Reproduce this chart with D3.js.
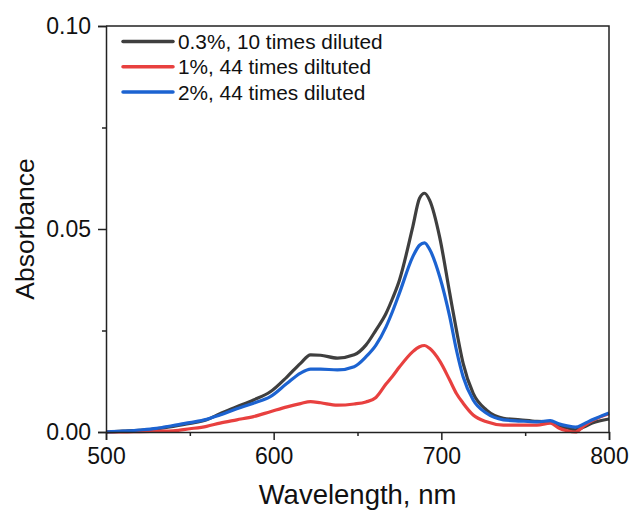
<!DOCTYPE html>
<html>
<head>
<meta charset="utf-8">
<script src="https://cdn.jsdelivr.net/npm/d3@7"></script>
<style>
  body { margin: 0; background: #fff; }
  svg text { font-family: Arial, "Liberation Sans", sans-serif; fill: #111; }
</style>
</head>
<body>
<div id="chart"></div>
<script>
const width = 633;
const height = 513;

// wavelength grid (nm)
const wavelengths = [500, 510, 520, 530, 540, 550, 560, 568, 578, 588, 598, 608, 616, 622, 628, 638, 648, 655, 661, 667,
    671, 675, 683, 687, 690, 693, 699, 705, 709, 713, 719, 727, 737, 747, 757, 765, 770, 775, 780, 785, 790, 800];

const dil03 = [0.0000, 0.0002, 0.0004, 0.0008, 0.0014, 0.0021, 0.0030, 0.0045, 0.0062, 0.0079, 0.0099, 0.0136, 0.0169, 0.0190,
    0.0189, 0.0182, 0.0190, 0.0214, 0.0251, 0.0292, 0.0330, 0.0374, 0.0506, 0.0576, 0.0588, 0.0571, 0.0480, 0.0342, 0.0251,
    0.0169, 0.0095, 0.0054, 0.0034, 0.0030, 0.0026, 0.0025, 0.0015, 0.0010, 0.0005, 0.0012, 0.0022, 0.0032];

const dil1 = [0.0000, 0.0000, 0.0001, 0.0002, 0.0003, 0.0008, 0.0014, 0.0022, 0.0030, 0.0038, 0.0050, 0.0062, 0.0070, 0.0075,
    0.0072, 0.0066, 0.0069, 0.0074, 0.0085, 0.0118, 0.0138, 0.0160, 0.0198, 0.0210, 0.0213, 0.0206, 0.0175, 0.0128, 0.0095,
    0.0071, 0.0042, 0.0025, 0.0017, 0.0017, 0.0017, 0.0022, 0.0010, 0.0003, 0.0000, 0.0015, 0.0028, 0.0045];

const dil2 = [0.0000, 0.0002, 0.0005, 0.0009, 0.0016, 0.0023, 0.0031, 0.0042, 0.0057, 0.0071, 0.0087, 0.0120, 0.0145, 0.0155,
    0.0155, 0.0153, 0.0161, 0.0185, 0.0214, 0.0259, 0.0298, 0.0342, 0.0432, 0.0460, 0.0466, 0.0450, 0.0383, 0.0284, 0.0202,
    0.0136, 0.0079, 0.0046, 0.0030, 0.0027, 0.0025, 0.0028, 0.0020, 0.0015, 0.0012, 0.0020, 0.0030, 0.0047];

const seriesNames = ['0.3%, 10 times diluted', '1%, 44 times diltuted', '2%, 44 times diluted'];
const seriesColors = ['#3f3f3f', '#e8403f', '#1c63d1'];
const xTicks = [500, 600, 700, 800];
const xMinor = [550, 650, 750];
const yTicks = [0, 0.05, 0.10];
const yMinor = [0.025, 0.075];

const series = [dil03, dil1, dil2].map((vals, i) => ({
    name: seriesNames[i],
    color: seriesColors[i],
    points: wavelengths.map((w, j) => ({x: w, y: vals[j]}))
}));

const svg = d3.select('#chart')
    .append('svg')
    .attr('width', width)
    .attr('height', height);

const x = d3.scaleLinear().domain([500, 800]).range([106, 609]);
const y = d3.scaleLinear().domain([0, 0.10]).range([432, 26]);

const line = d3.line()
    .x(d => x(d.x))
    .y(d => y(d.y))
    .curve(d3.curveMonotoneX);

// curves
svg.append('g')
    .selectAll('path')
    .data(series)
    .enter()
    .append('path')
    .attr('d', d => line(d.points))
    .style('fill', 'none')
    .style('stroke', d => d.color)
    .style('stroke-width', 3.2)
    .style('stroke-linejoin', 'round');

// frame (top + right)
svg.append('path')
    .attr('d', `M${x(500)},${y(0.10)}H${x(800)}V${y(0)}`)
    .style('fill', 'none')
    .style('stroke', '#222')
    .style('stroke-width', 1.5);

// x axis
svg.append('g')
    .attr('transform', `translate(0,${y(0)})`)
    .call(d3.axisBottom(x).tickValues(xTicks).tickFormat(d3.format('d')).tickSize(8).tickPadding(8));
svg.append('g')
    .attr('transform', `translate(0,${y(0)})`)
    .call(d3.axisBottom(x).tickValues(xMinor).tickFormat('').tickSize(4))
    .select('.domain').remove();

// y axis
svg.append('g')
    .attr('transform', `translate(${x(500)},0)`)
    .call(d3.axisLeft(y).tickValues(yTicks).tickFormat(d3.format('.2f')).tickSize(8).tickPadding(7));
svg.append('g')
    .attr('transform', `translate(${x(500)},0)`)
    .call(d3.axisLeft(y).tickValues(yMinor).tickFormat('').tickSize(4))
    .select('.domain').remove();

svg.selectAll('.domain, .tick line')
    .style('stroke', '#222')
    .style('stroke-width', 1.5);
svg.selectAll('.tick text')
    .style('font-size', '23px')
    .style('fill', '#111');

// axis titles
svg.append('text')
    .attr('x', (x(500) + x(800)) / 2)
    .attr('y', 504)
    .attr('text-anchor', 'middle')
    .style('font-size', '27.5px')
    .text('Wavelength, nm');

svg.append('text')
    .attr('transform', `translate(34,${(y(0) + y(0.10)) / 2}) rotate(-90)`)
    .attr('text-anchor', 'middle')
    .style('font-size', '26.5px')
    .text('Absorbance');

// legend
const legend = svg.append('g')
    .selectAll('g')
    .data(series)
    .enter()
    .append('g')
    .attr('transform', (d, i) => `translate(123,${41.5 + i * 25.3})`);
legend.append('line')
    .attr('x1', 0).attr('x2', 50)
    .style('stroke', d => d.color)
    .style('stroke-width', 3.5)
    .style('stroke-linecap', 'round');
legend.append('text')
    .attr('x', 55)
    .attr('y', 7.5)
    .style('font-size', '20.8px')
    .text(d => d.name);
</script>
</body>
</html>
